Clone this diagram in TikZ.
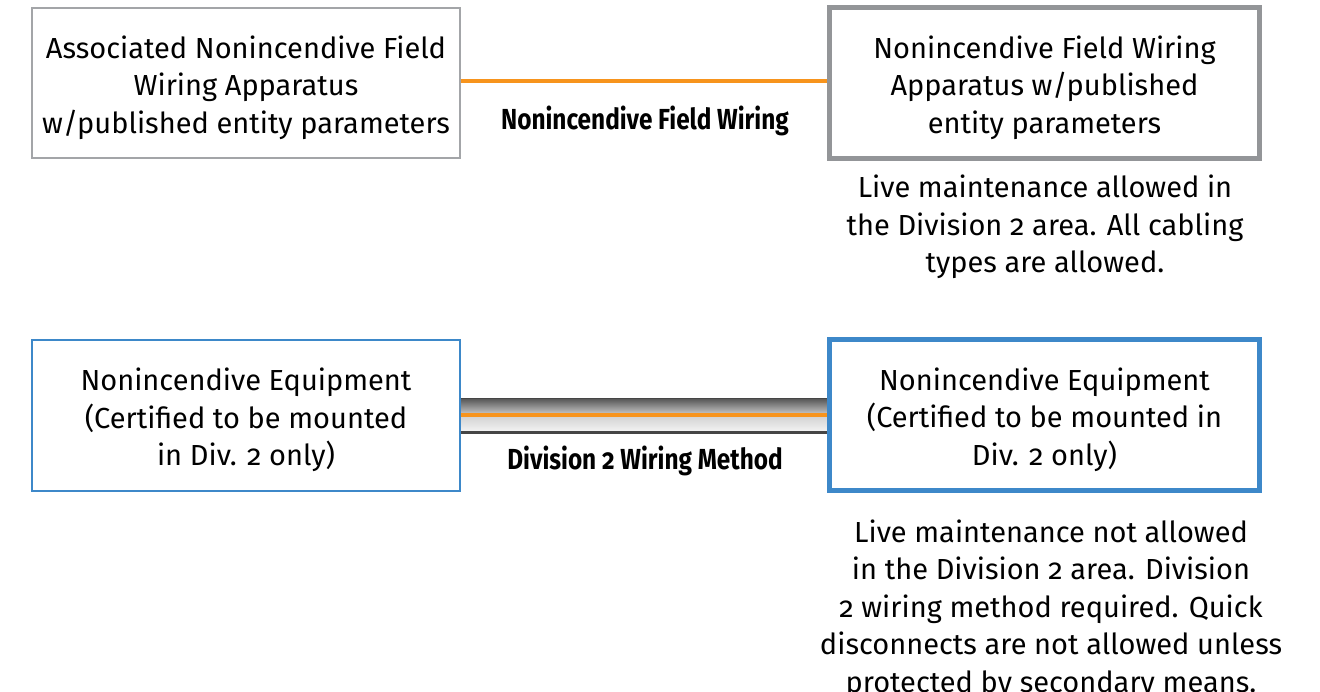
\documentclass[tikz,border=0pt]{standalone}
\usepackage{fontspec}
\setmainfont{Fira Sans}[Numbers=OldStyle]
\newfontfamily\condfont{Fira Sans}[FakeStretch=0.84, Numbers=OldStyle]
\usetikzlibrary{backgrounds}
\definecolor{grayA}{HTML}{A3A5A8}
\definecolor{grayB}{HTML}{939598}
\definecolor{wireorange}{HTML}{F7941D}
\definecolor{boxblue}{HTML}{3D88C9}
\definecolor{cabledark}{HTML}{454545}
\newcommand{\boxfont}{\fontsize{29}{37.5}\selectfont}
\newcommand{\topstrut}{\rule{0pt}{32pt}}
\begin{document}
\begin{tikzpicture}[x=1pt,y=-1pt,
  box/.style={draw, fill=white, inner sep=0pt, align=center, font=\boxfont, text=black},
  thinbox/.style={box, line width=2pt, minimum width=428pt, minimum height=150pt},
  thickbox/.style={box, line width=5pt, minimum width=430pt, minimum height=151pt},
  wirelabel/.style={font=\condfont\bfseries\fontsize{29}{34}\selectfont, inner sep=0pt},
  caption/.style={align=center, font=\boxfont, inner sep=0pt}]
\useasboundingbox (0,0) rectangle (1320,692);
\begin{scope}[on background layer]
\fill[white] (0,0) rectangle (1320,692);
\end{scope}
\node[thinbox, draw=grayA] (A) at (246,83) {\topstrut Associated Nonincendive Field\\Wiring Apparatus\\w/published entity parameters};
\node[thickbox, draw=grayB] (B) at (1044.5,83) {\topstrut Nonincendive Field Wiring\\Apparatus w/published\\entity parameters};
\node[thinbox, draw=boxblue] (C) at (246,415.5) {\topstrut Nonincendive Equipment\\(Certified to be mounted\\in Div. 2 only)};
\node[thickbox, draw=boxblue] (D) at (1044.5,415) {\topstrut Nonincendive Equipment\\(Certified to be mounted in\\Div. 2 only)};
\draw[wireorange, line width=4pt] ([yshift=2pt]A.east) -- ([yshift=2pt]B.west);
\coordinate (cl) at (C.east);
\coordinate (cr) at (D.west |- C.east);
\begin{scope}[on background layer]
\fill[cabledark] ([yshift=17.5pt]cl) rectangle ([yshift=15.5pt]cr);
\shade[top color=black!62, bottom color=black!25] ([yshift=15.5pt]cl) rectangle ([yshift=2.5pt]cr);
\fill[wireorange] ([yshift=2.5pt]cl) rectangle ([yshift=-2.5pt]cr);
\shade[top color=black!16, bottom color=black!5] ([yshift=-2.5pt]cl) rectangle ([yshift=-15.5pt]cr);
\fill[cabledark] ([yshift=-15.5pt]cl) rectangle ([yshift=-18pt]cr);
\end{scope}
\node[wirelabel] (L1) at (645,121) {Nonincendive Field Wiring};
\node[wirelabel] (L2) at (645,461) {Division 2 Wiring Method};
\node[caption] (T1) at (1045,227) {Live maintenance allowed in\\the Division 2 area. All cabling\\types are allowed.};
\node[caption] (T2) at (1051,609) {Live maintenance not allowed\\in the Division 2 area. Division\\2 wiring method required. Quick\\disconnects are not allowed unless\\protected by secondary means.};
\end{tikzpicture}
\end{document}
